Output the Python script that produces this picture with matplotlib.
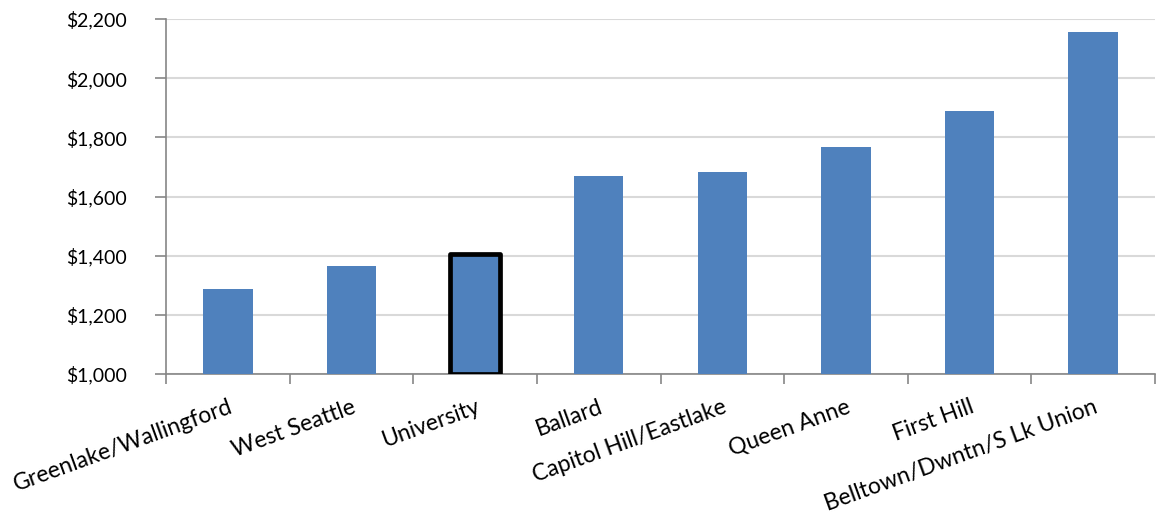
import matplotlib.pyplot as plt
import numpy as np
from matplotlib.ticker import FuncFormatter

plt.rcParams['font.family'] = ['Lato', 'DejaVu Sans']

# Median rent by neighborhood
neighborhoods = ['Greenlake/Wallingford', 'West Seattle', 'University', 'Ballard',
                 'Capitol Hill/Eastlake', 'Queen Anne', 'First Hill',
                 'Belltown/Dwntn/S Lk Union']
rents = [1286, 1365, 1404, 1670, 1683, 1768, 1890, 2155]
highlight = 'University'

fig = plt.figure(figsize=(11.62, 5.13), dpi=100)
ax = fig.add_axes([166 / 1162, 1 - 374 / 513, (1155 - 166) / 1162, (374 - 19) / 513])

x = np.arange(len(neighborhoods))
bars = ax.bar(x, [r - 1000 for r in rents], bottom=1000, width=0.4,
              color='#4f81bd', zorder=3)
for b, name in zip(bars, neighborhoods):
    if name == highlight:
        b.set_edgecolor('black')
        b.set_linewidth(3.4)
        b.set_joinstyle('round')

ax.set_ylim(1000, 2200)
ax.set_xlim(-0.5, len(neighborhoods) - 0.5)
ax.set_yticks(np.arange(1000, 2201, 200))
ax.yaxis.set_major_formatter(FuncFormatter(lambda v, p: f'${v:,.0f}'))
ax.grid(axis='y', color='#d9d9d9', linewidth=1.5, zorder=0)

for s in ['top', 'right']:
    ax.spines[s].set_visible(False)
for s in ['left', 'bottom']:
    ax.spines[s].set_color('#868686')
    ax.spines[s].set_linewidth(1.2)

# category separators as ticks, labels at bar centers
ax.set_xticks(np.arange(-0.5, len(neighborhoods)), minor=False)
ax.set_xticklabels([])
ax.tick_params(axis='x', which='major', length=7, color='#868686', width=1.2)
ax.set_xticks(x, minor=True)
ax.set_xticklabels(neighborhoods, minor=True, rotation=20, ha='right', va='top',
                   rotation_mode='anchor', fontsize=16.5)
ax.tick_params(axis='x', which='minor', length=0, pad=16)
ax.tick_params(axis='y', length=8, color='#868686', width=1.2, labelsize=14, pad=20)

fig.savefig('out.png', dpi=100)
